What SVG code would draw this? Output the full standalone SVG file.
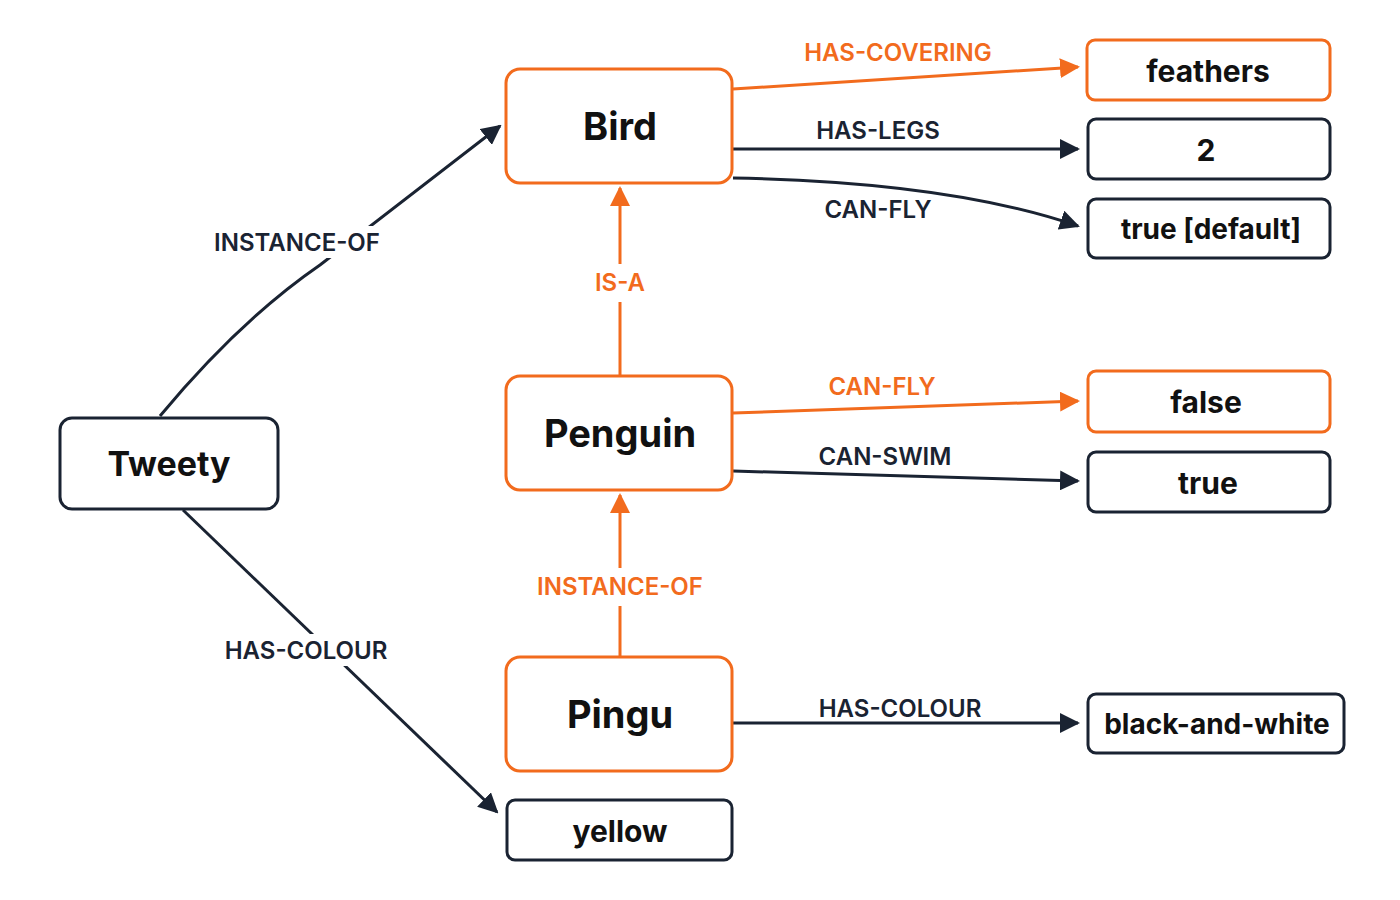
<svg xmlns="http://www.w3.org/2000/svg" width="1400" height="900" viewBox="0 0 1400 900">
<style>
.o{fill:#fff;stroke:#f26b1d;stroke-width:3}
.d{fill:#fff;stroke:#1a2332;stroke-width:3}
.t{font-family:Inter,"Liberation Sans",sans-serif;font-weight:700;fill:#111;text-anchor:middle;dominant-baseline:central}
.big{font-size:38px}
.val{font-size:30px}
.lab{font-family:Inter,"Liberation Sans",sans-serif;font-weight:600;font-size:24px;text-anchor:middle;dominant-baseline:central}
.lo{fill:#f26b1d}.ld{fill:#1a2332}
.eo{fill:none;stroke:#f26b1d;stroke-width:3}
.ed{fill:none;stroke:#1a2332;stroke-width:3}
</style>
<defs>
<marker id="ao" viewBox="0 0 10 10" refX="9" refY="5" markerWidth="7" markerHeight="7" markerUnits="userSpaceOnUse" orient="auto" style="overflow:visible"><path d="M0,0L10,5L0,10z" fill="#f26b1d" transform="scale(2)"/></marker>
<marker id="ad" viewBox="0 0 20 20" refX="18" refY="10" markerWidth="20" markerHeight="20" markerUnits="userSpaceOnUse" orient="auto"><path d="M0,0L20,10L0,20z" fill="#1a2332"/></marker>
<marker id="ao2" viewBox="0 0 20 20" refX="18" refY="10" markerWidth="20" markerHeight="20" markerUnits="userSpaceOnUse" orient="auto"><path d="M0,0L20,10L0,20z" fill="#f26b1d"/></marker>
</defs>
<rect width="1400" height="900" fill="#fff"/>
<g id="connectors">
<path class="eo" d="M733,89 L1078,67" marker-end="url(#ao2)"/>
<path class="ed" d="M733,149 L1078,149" marker-end="url(#ad)"/>
<path class="ed" d="M733,178 Q950,182 1078,226" marker-end="url(#ad)"/>
<path class="eo" d="M733,413 L1078,401" marker-end="url(#ao2)"/>
<path class="ed" d="M733,471 L1078,481" marker-end="url(#ad)"/>
<path class="ed" d="M733,723 L1078,723" marker-end="url(#ad)"/>
<path class="eo" d="M620,375 L620,188" marker-end="url(#ao2)"/>
<path class="eo" d="M620,656 L620,495" marker-end="url(#ao2)"/>
<path class="ed" d="M160,416 Q240,320 320,265 L500,126" marker-end="url(#ad)"/>
<path class="ed" d="M183,510 L497,812" marker-end="url(#ad)"/>
<rect x="205" y="226" width="185" height="32" fill="#fff"/>
<rect x="216" y="634" width="180" height="32" fill="#fff"/>
<rect x="585" y="264" width="70" height="38" fill="#fff"/>
<rect x="525" y="568" width="190" height="38" fill="#fff"/>
<text class="lab lo" x="898" y="52">HAS-COVERING</text>
<text class="lab ld" x="878" y="130">HAS-LEGS</text>
<text class="lab ld" x="878" y="209">CAN-FLY</text>
<text class="lab lo" x="882" y="386">CAN-FLY</text>
<text class="lab ld" x="885" y="456">CAN-SWIM</text>
<text class="lab ld" x="900" y="708">HAS-COLOUR</text>
<text class="lab lo" x="620" y="282">IS-A</text>
<text class="lab lo" x="620" y="586">INSTANCE-OF</text>
<text class="lab ld" x="297" y="242">INSTANCE-OF</text>
<text class="lab ld" x="306" y="650">HAS-COLOUR</text>
</g>
<g id="bird"><rect class="o" x="506" y="69" width="226" height="114" rx="14"/><text class="t big" x="620" y="126">Bird</text></g>
<g id="penguin"><rect class="o" x="506" y="376" width="226" height="114" rx="14"/><text class="t big" x="620" y="433">Penguin</text></g>
<g id="pingu"><rect class="o" x="506" y="657" width="226" height="114" rx="14"/><text class="t big" x="620" y="714">Pingu</text></g>
<g id="tweety"><rect class="d" x="60" y="418" width="218" height="91" rx="12"/><text class="t big" x="169" y="463" style="font-size:34px">Tweety</text></g>
<g id="yellow"><rect class="d" x="507" y="800" width="225" height="60" rx="8"/><text class="t val" x="620" y="831">yellow</text></g>
<g id="feathers"><rect class="o" x="1087" y="40" width="243" height="60" rx="8"/><text class="t val" x="1208" y="71">feathers</text></g>
<g id="two"><rect class="d" x="1088" y="119" width="242" height="60" rx="8"/><text class="t val" x="1206" y="150">2</text></g>
<g id="truedefault"><rect class="d" x="1088" y="199" width="242" height="59" rx="8"/><text class="t val" x="1211" y="229" style="font-size:28px">true [default]</text></g>
<g id="false"><rect class="o" x="1088" y="371" width="242" height="61" rx="8"/><text class="t val" x="1206" y="402">false</text></g>
<g id="true"><rect class="d" x="1088" y="452" width="242" height="60" rx="8"/><text class="t val" x="1208" y="483">true</text></g>
<g id="bw"><rect class="d" x="1088" y="694" width="256" height="59" rx="8"/><text class="t val" x="1217" y="724" style="font-size:28px">black-and-white</text></g>
</svg>
